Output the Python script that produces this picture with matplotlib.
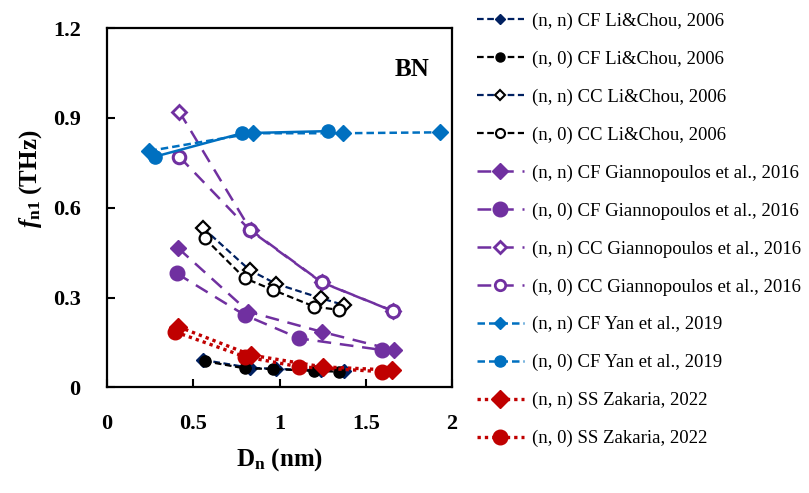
import matplotlib
matplotlib.use("Agg")
import matplotlib.pyplot as plt
from matplotlib.lines import Line2D

plt.rcParams["font.family"] = ["Liberation Serif", "DejaVu Serif"]
plt.rcParams["mathtext.fontset"] = "custom"
plt.rcParams["mathtext.rm"] = "Liberation Serif:bold"
plt.rcParams["mathtext.bf"] = "Liberation Serif:bold"
plt.rcParams["mathtext.it"] = "Liberation Serif:italic:bold"

# Diameters (nm) and fundamental frequencies (THz) for BN nanotubes
lc_cf_nn_d = [0.558, 0.827, 0.981, 1.241, 1.375]
lc_cf_nn_f = [0.092, 0.066, 0.062, 0.057, 0.055]
lc_cf_n0_d = [0.567, 0.798, 0.961, 1.202, 1.346]
lc_cf_n0_f = [0.088, 0.064, 0.062, 0.055, 0.053]
lc_cc_nn_d = [0.558, 0.827, 0.981, 1.241, 1.375]
lc_cc_nn_f = [0.532, 0.392, 0.346, 0.298, 0.275]
lc_cc_n0_d = [0.567, 0.798, 0.961, 1.202, 1.346]
lc_cc_n0_f = [0.498, 0.365, 0.326, 0.270, 0.259]

gi_cf_nn_d = [0.413, 0.820, 1.244, 1.664]
gi_cf_nn_f = [0.465, 0.253, 0.186, 0.125]
gi_cf_n0_d = [0.404, 0.798, 1.115, 1.596]
gi_cf_n0_f = [0.381, 0.242, 0.164, 0.125]
gi_cc_nn_d = [0.419, 0.832, 1.246, 1.660]
gi_cc_nn_f = [0.921, 0.526, 0.351, 0.255]
gi_cc_n0_d = [0.418, 0.827, 1.244, 1.658]
gi_cc_n0_f = [0.771, 0.526, 0.351, 0.255]

yan_nn_d = [0.246, 0.844, 1.371, 1.933]
yan_nn_f = [0.790, 0.849, 0.849, 0.852]
yan_n0_d = [0.279, 0.783, 1.279]
yan_n0_f = [0.771, 0.849, 0.856]

zk_nn_d = [0.413, 0.837, 1.250, 1.654]
zk_nn_f = [0.203, 0.108, 0.069, 0.058]
zk_n0_d = [0.394, 0.798, 1.115, 1.596]
zk_n0_f = [0.186, 0.103, 0.069, 0.053]

labels = [
    "(n, n) CF Li&Chou, 2006",
    "(n, 0) CF Li&Chou, 2006",
    "(n, n) CC Li&Chou, 2006",
    "(n, 0) CC Li&Chou, 2006",
    "(n, n) CF Giannopoulos et al., 2016",
    "(n, 0) CF Giannopoulos et al., 2016",
    "(n, n) CC Giannopoulos et al., 2016",
    "(n, 0) CC Giannopoulos et al., 2016",
    "(n, n) CF Yan et al., 2019",
    "(n, 0) CF Yan et al., 2019",
    "(n, n) SS Zakaria, 2022",
    "(n, 0) SS Zakaria, 2022",
]

NAVY = "#002060"
PURPLE = "#7030A0"
BLUE = "#0070C0"
RED = "#C00000"

fig = plt.figure(figsize=(8.09, 4.93), dpi=100)
ax = fig.add_axes([0.1323, 0.214, 0.4264, 0.729])

short_dash = (0, (3.0, 1.6))
long_dash = (0, (5.5, 3.5))
dots = (0, (1, 1.2))

h = []
h += ax.plot(lc_cf_nn_d, lc_cf_nn_f, ls=short_dash, lw=1.6, color=NAVY, marker="D", ms=7,
             mfc=NAVY, mec=NAVY, label=labels[0])
h += ax.plot(lc_cf_n0_d, lc_cf_n0_f, ls=short_dash, lw=1.6, color="black", marker="o", ms=8,
             mfc="black", mec="black", label=labels[1])
h += ax.plot(lc_cc_nn_d, lc_cc_nn_f, ls=short_dash, lw=1.6, color=NAVY, marker="D", ms=7,
             mfc="white", mec="black", mew=1.6, label=labels[2])
h += ax.plot(lc_cc_n0_d, lc_cc_n0_f, ls=short_dash, lw=1.6, color="black", marker="o", ms=8.5,
             mfc="white", mec="black", mew=1.6, label=labels[3])

h += ax.plot(gi_cf_nn_d, gi_cf_nn_f, ls=long_dash, lw=1.8, color=PURPLE, marker="D", ms=8.5,
             mfc=PURPLE, mec=PURPLE, label=labels[4])
h += ax.plot(gi_cf_n0_d, gi_cf_n0_f, ls=long_dash, lw=1.8, color=PURPLE, marker="o", ms=10.5,
             mfc=PURPLE, mec=PURPLE, label=labels[5])
h += ax.plot(gi_cc_nn_d, gi_cc_nn_f, ls=long_dash, lw=1.8, color=PURPLE, marker="D", ms=7,
             mfc="white", mec=PURPLE, mew=2, label=labels[6])
h += ax.plot(gi_cc_n0_d, gi_cc_n0_f, ls=long_dash, lw=1.8, color=PURPLE, marker="o", ms=9,
             mfc="white", mec=PURPLE, mew=2.2, label=labels[7])

h += ax.plot(yan_nn_d, yan_nn_f, ls=short_dash, lw=1.8, color=BLUE, marker="D", ms=8,
             mfc=BLUE, mec=BLUE, label=labels[8])
h += ax.plot(yan_n0_d, yan_n0_f, ls="-", lw=1.8, color=BLUE, marker="o", ms=9.5,
             mfc=BLUE, mec=BLUE, label=labels[9])

h += ax.plot(zk_nn_d, zk_nn_f, ls=dots, lw=2.4, color=RED, marker="D", ms=9,
             mfc=RED, mec=RED, label=labels[10])
h += ax.plot(zk_n0_d, zk_n0_f, ls=dots, lw=2.4, color=RED, marker="o", ms=10.5,
             mfc=RED, mec=RED, label=labels[11])

# legend keys: smaller markers for some series, dashed key for the (n, 0) Yan series
legend_handles = [
    Line2D([], [], ls=short_dash, lw=1.6, color=NAVY, marker="D", ms=5.5, mfc=NAVY, mec=NAVY),
    Line2D([], [], ls=short_dash, lw=1.6, color="black", marker="o", ms=6.5, mfc="black", mec="black"),
    Line2D([], [], ls=short_dash, lw=1.6, color=NAVY, marker="D", ms=5.5, mfc="white", mec="black", mew=1.5),
    Line2D([], [], ls=short_dash, lw=1.6, color="black", marker="o", ms=6.5, mfc="white", mec="black", mew=1.5),
    h[4], h[5],
    Line2D([], [], ls=long_dash, lw=1.8, color=PURPLE, marker="D", ms=6, mfc="white", mec=PURPLE, mew=2),
    Line2D([], [], ls=long_dash, lw=1.8, color=PURPLE, marker="o", ms=7.5, mfc="white", mec=PURPLE, mew=2),
    Line2D([], [], ls=short_dash, lw=1.8, color=BLUE, marker="D", ms=6, mfc=BLUE, mec=BLUE),
    Line2D([], [], ls=short_dash, lw=1.8, color=BLUE, marker="o", ms=8, mfc=BLUE, mec=BLUE),
    h[10], h[11],
]

ax.set_xlim(0, 2)
ax.set_ylim(0, 1.2)
ax.set_xticks([0, 0.5, 1, 1.5, 2])
ax.set_xticklabels(["0", "0.5", "1", "1.5", "2"])
ax.set_yticks([0, 0.3, 0.6, 0.9, 1.2])
ax.set_yticklabels(["0", "0.3", "0.6", "0.9", "1.2"])
ax.tick_params(direction="in", length=6, width=1.5, labelsize=16)
ax.tick_params(axis="x", pad=19)
ax.tick_params(axis="y", pad=19)
for t in ax.get_xticklabels() + ax.get_yticklabels():
    t.set_fontweight("bold")
for s in ax.spines.values():
    s.set_linewidth(1.6)

fig.text(0.346, 0.068, r"D$_{\mathbf{n}}$ (nm)", fontsize=18, fontweight="bold",
         ha="center", va="center")
fig.text(0.038, 0.637, r"$\mathit{f}_{\mathbf{n1}}$ (THz)", fontsize=18, fontweight="bold",
         ha="center", va="center", rotation=90)

ax.text(0.935, 0.885, "BN", transform=ax.transAxes, ha="right", va="center",
        fontsize=18, fontweight="bold")

fig.legend(handles=legend_handles, labels=labels, loc="upper left",
           bbox_to_anchor=(0.573, 1.001), frameon=False,
           fontsize=13.5, handlelength=2.5, handletextpad=0.45, labelspacing=1.1,
           borderaxespad=0.3)

fig.savefig("out.png", dpi=100)
